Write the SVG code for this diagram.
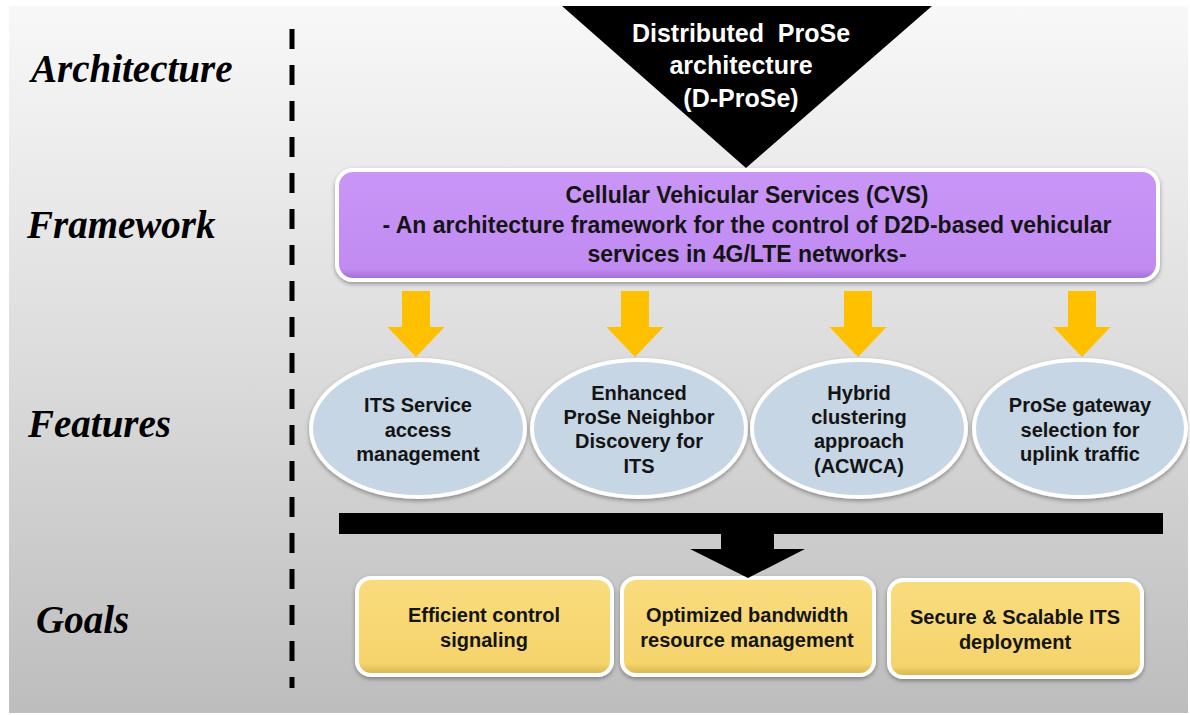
<svg xmlns="http://www.w3.org/2000/svg" width="1190" height="715" viewBox="0 0 1190 715">
  <defs>
    <linearGradient id="bg" x1="0" y1="0" x2="0" y2="1">
      <stop offset="0" stop-color="#f8f8f8"/>
      <stop offset="0.5" stop-color="#dcdcdc"/>
      <stop offset="1" stop-color="#bdbdbd"/>
    </linearGradient>
    <linearGradient id="purple" x1="0" y1="0" x2="0" y2="1">
      <stop offset="0" stop-color="#c996f6"/>
      <stop offset="0.9" stop-color="#c18bf2"/>
      <stop offset="1" stop-color="#9f6bd0"/>
    </linearGradient>
    <linearGradient id="gold" x1="0" y1="0" x2="0" y2="1">
      <stop offset="0" stop-color="#f9dc7e"/>
      <stop offset="0.88" stop-color="#f6d46c"/>
      <stop offset="1" stop-color="#d6b24e"/>
    </linearGradient>
    <filter id="shadow" x="-5%" y="-10%" width="110%" height="125%">
      <feDropShadow dx="0" dy="2" stdDeviation="2" flood-color="#000" flood-opacity="0.35"/>
    </filter>
  </defs>
  <style>
    .lbl { font-family: "Liberation Serif", "Times New Roman", serif; font-weight: bold; font-style: italic; font-size: 39px; fill: #000; }
    .t { font-family: "Liberation Sans", Arial, sans-serif; font-weight: bold; font-size: 20px; fill: #141414; text-anchor: middle; }
    .tp { font-family: "Liberation Sans", Arial, sans-serif; font-weight: bold; font-size: 23px; fill: #141414; text-anchor: middle; }
    .tw { font-family: "Liberation Sans", Arial, sans-serif; font-weight: bold; font-size: 25px; fill: #ffffff; text-anchor: middle; }
    .ell { fill: #c6d6e4; stroke: #ffffff; stroke-width: 4; filter: url(#shadow); }
    .goal { fill: url(#gold); stroke: #ffffff; stroke-width: 4; filter: url(#shadow); }
    .yarrow { fill: #ffc000; }
  </style>

  <rect x="0" y="0" width="1190" height="715" fill="#ffffff"/>
  <rect x="9" y="6" width="1179" height="707" fill="url(#bg)"/>

  <g id="layer-labels">
    <text class="lbl" x="31" y="82">Architecture</text>
    <text class="lbl" x="27" y="238">Framework</text>
    <text class="lbl" x="28" y="437">Features</text>
    <text class="lbl" x="36" y="633">Goals</text>
    <line x1="292" y1="29" x2="292" y2="688" stroke="#000" stroke-width="5" stroke-dasharray="20 16"/>
  </g>

  <g id="dprose">
    <polygon points="562,6 932,6 746,168" fill="#000"/>
    <text class="tw" x="741" y="42">Distributed&#160; ProSe</text>
    <text class="tw" x="741" y="74">architecture</text>
    <text class="tw" x="741" y="107">(D-ProSe)</text>
  </g>

  <g id="cvs">
    <rect x="337" y="170" width="821" height="110" rx="16" fill="url(#purple)" stroke="#ffffff" stroke-width="4" filter="url(#shadow)"/>
    <text class="tp" x="747" y="203">Cellular Vehicular Services (CVS)</text>
    <text class="tp" x="747" y="233">- An architecture framework for the control of D2D-based vehicular</text>
    <text class="tp" x="747" y="262">services in 4G/LTE networks-</text>
  </g>

  <g id="connectors">
    <polygon class="yarrow" points="402,291 430,291 430,327 444.5,327 416,357 387.5,327 402,327"/>
    <polygon class="yarrow" points="621,291 649,291 649,327 663.5,327 635,357 606.5,327 621,327"/>
    <polygon class="yarrow" points="844,291 872,291 872,327 886.5,327 858,357 829.5,327 844,327"/>
    <polygon class="yarrow" points="1068,291 1096,291 1096,327 1110.5,327 1082,357 1053.5,327 1068,327"/>
  </g>

  <g id="feature-access">
    <ellipse class="ell" cx="418" cy="428.5" rx="107" ry="68.5"/>
    <text class="t" x="418" y="412">ITS Service</text>
    <text class="t" x="418" y="437">access</text>
    <text class="t" x="418" y="461">management</text>
  </g>
  <g id="feature-discovery">
    <ellipse class="ell" cx="639" cy="428.5" rx="107" ry="68.5"/>
    <text class="t" x="639" y="400">Enhanced</text>
    <text class="t" x="639" y="424">ProSe Neighbor</text>
    <text class="t" x="639" y="448">Discovery for</text>
    <text class="t" x="639" y="473">ITS</text>
  </g>
  <g id="feature-clustering">
    <ellipse class="ell" cx="859" cy="428.5" rx="107" ry="68.5"/>
    <text class="t" x="859" y="400">Hybrid</text>
    <text class="t" x="859" y="424">clustering</text>
    <text class="t" x="859" y="448">approach</text>
    <text class="t" x="859" y="473">(ACWCA)</text>
  </g>
  <g id="feature-gateway">
    <ellipse class="ell" cx="1080" cy="428.5" rx="106" ry="68.5"/>
    <text class="t" x="1080" y="412">ProSe gateway</text>
    <text class="t" x="1080" y="437">selection for</text>
    <text class="t" x="1080" y="461">uplink traffic</text>
  </g>

  <g id="goal-signaling">
    <rect class="goal" x="357" y="578" width="255" height="97" rx="14"/>
    <text class="t" x="484" y="622">Efficient control</text>
    <text class="t" x="484" y="647">signaling</text>
  </g>
  <g id="goal-bandwidth">
    <rect class="goal" x="622" y="578" width="252" height="97" rx="14"/>
    <text class="t" x="747" y="622">Optimized bandwidth</text>
    <text class="t" x="747" y="647">resource management</text>
  </g>
  <g id="goal-deployment">
    <rect class="goal" x="889" y="580" width="253" height="97" rx="14"/>
    <text class="t" x="1015" y="624">Secure &amp; Scalable ITS</text>
    <text class="t" x="1015" y="649">deployment</text>
  </g>

  <g id="connectors-merge">
    <rect x="339" y="513" width="824" height="21" fill="#000"/>
    <polygon points="721,533 774,533 774,549 805,549 748,578 690,549 721,549" fill="#000"/>
  </g>
</svg>
